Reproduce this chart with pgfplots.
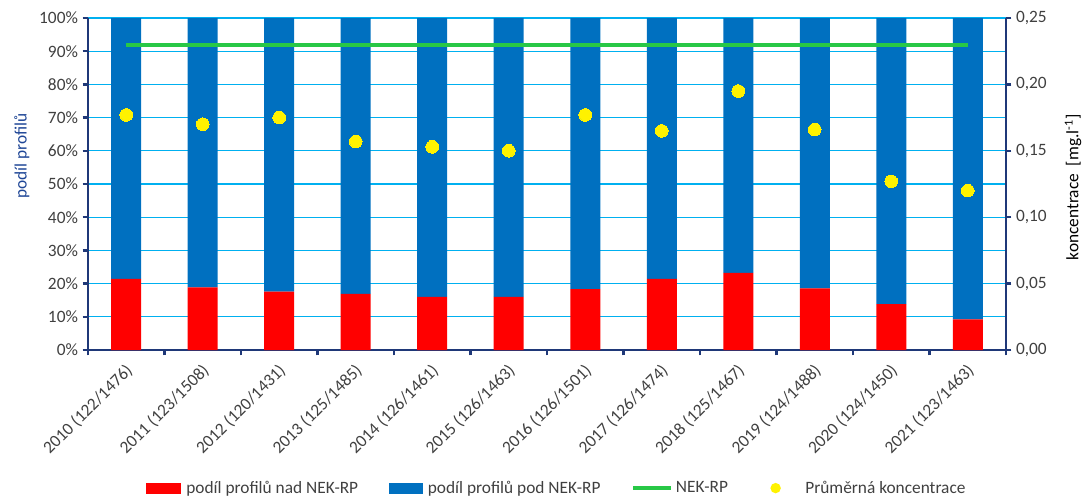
\documentclass[border=0pt]{standalone}
\usepackage{fontspec}
\setmainfont{Carlito}
\usepackage{pgfplots}
\usepackage{pgfplotstable}
\pgfplotsset{compat=1.18}
\definecolor{barred}{RGB}{255,0,0}
\definecolor{barblue}{RGB}{0,112,192}
\definecolor{gridblue}{RGB}{0,176,240}
\definecolor{axisblue}{RGB}{31,56,120}
\definecolor{labelblue}{RGB}{31,70,150}
\definecolor{nekgreen}{RGB}{40,200,70}
\definecolor{txtgray}{RGB}{64,64,64}
\pgfplotstableread{
x nad pod conc
0 21.4 78.6 0.177
1 18.9 81.1 0.170
2 17.6 82.4 0.175
3 16.9 83.1 0.157
4 16.0 84.0 0.153
5 16.0 84.0 0.150
6 18.3 81.7 0.177
7 21.4 78.6 0.165
8 23.2 76.8 0.195
9 18.6 81.4 0.166
10 13.8 86.2 0.127
11 9.2 90.8 0.120
}\data
\begin{document}
\begin{tikzpicture}
\pgfplotsset{
  common/.style={
    scale only axis, width=688.5pt, height=249pt,
    xmin=-0.5, xmax=11.5,
    tick align=outside,
    major tick length=4pt, minor tick length=4pt,
    tick style={axisblue, line width=1.8pt},
    axis line style={axisblue, line width=2.2pt},
    every tick label/.append style={font=\fontsize{13}{15}\selectfont, text=txtgray},
    /pgf/number format/assume math mode=true,
  }
}
\begin{axis}[common,
  ybar stacked, bar width=22.5pt,
  ymin=0, ymax=100,
  axis x line*=bottom, axis y line*=left,
  ytick={0,10,...,100},
  yticklabel={\pgfmathprintnumber{\tick}\%},
  ymajorgrids, grid style={gridblue, line width=1pt},
  xtick={0,...,11},
  xticklabels={2010 (122/1476),2011 (123/1508),2012 (120/1431),2013 (125/1485),2014 (126/1461),2015 (126/1463),2016 (126/1501),2017 (126/1474),2018 (125/1467),2019 (124/1488),2020 (124/1450),2021 (123/1463)},
  xticklabel style={xshift=5pt, yshift=-7pt, rotate=45, anchor=east},
  minor xtick={-0.5,0.5,...,11.5},
  major x tick style={draw=none},
  minor x tick style={axisblue, line width=1.8pt},
  ylabel={podíl profilů},
  ylabel style={at={(axis description cs:-0.072,0.585)}, anchor=center, text=labelblue, font=\fontsize{13}{15}\selectfont},
]
\addplot[fill=barred, draw=none] table[x=x, y=nad]{\data};
\addplot[fill=barblue, draw=none] table[x=x, y=pod]{\data};
\end{axis}
\begin{axis}[common,
  ymin=0, ymax=0.25,
  axis x line=none, axis y line*=right,
  ytick={0,0.05,0.10,0.15,0.20,0.25},
  yticklabel style={/pgf/number format/.cd, fixed, fixed zerofill, precision=2, use comma},
  ylabel={koncentrace\ \ [mg.l\textsuperscript{-1}]},
  ylabel style={at={(axis description cs:1.073,0.49)}, anchor=center, text=black, font=\fontsize{13}{15}\selectfont},
  legend columns=4,
  legend style={at={(axis description cs:0.511,-0.416)}, anchor=center, draw=none, fill=none,
    font=\fontsize{13}{15}\selectfont, text=txtgray,
    /tikz/every even column/.append style={column sep=21pt}},
  legend cell align=left,
]
\addlegendimage{legend image code/.code={\fill[barred] (0pt,-3.8pt) rectangle (25.5pt,3.8pt); \path[draw=none,fill=none] (0pt,0pt) rectangle (28pt,0.1pt);}}
\addlegendentry{podíl profilů nad NEK-RP}
\addlegendimage{legend image code/.code={\fill[barblue] (0pt,-3.8pt) rectangle (25pt,3.8pt); \path[draw=none,fill=none] (0pt,0pt) rectangle (27pt,0.1pt);}}
\addlegendentry{podíl profilů pod NEK-RP}
\addplot[nekgreen, line width=3pt, legend image code/.code={\draw[nekgreen, line width=3pt] (0pt,0pt) -- (28.5pt,0pt);}] coordinates {(0,0.23) (11,0.23)};
\addlegendentry{NEK-RP}
\addplot[only marks, mark=*, mark size=4.75pt, mark options={solid, fill=yellow, draw=yellow, line width=0pt},
  legend image code/.code={\fill[yellow, draw=none] (12.75pt,0pt) circle (3.9pt); \path[draw=none,fill=none] (0pt,0pt) rectangle (33pt,0.1pt);}] table[x=x, y=conc]{\data};
\addlegendentry{Průměrná koncentrace}
\end{axis}
\pgfresetboundingbox
\path[use as bounding box] ([shift={(-66pt,-110.25pt)}]current axis.south west) rectangle ([shift={(746.25pt,262.5pt)}]current axis.south west);
\end{tikzpicture}
\end{document}
